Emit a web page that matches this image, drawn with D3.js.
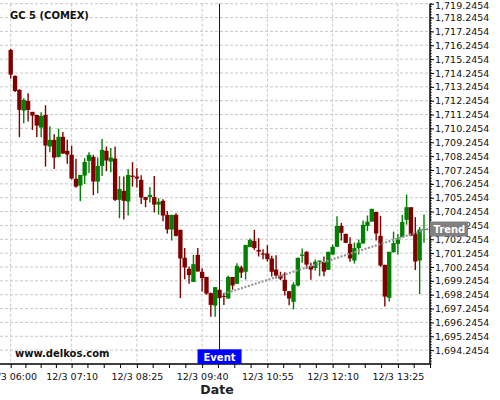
<!DOCTYPE html>
<html>
<head>
<meta charset="utf-8">
<script src="https://cdnjs.cloudflare.com/ajax/libs/d3/7.8.5/d3.min.js"></script>
<style>
  body { margin: 0; background: #fff; }
  text { font-family: "DejaVu Sans", sans-serif; }
</style>
</head>
<body>
<div id="chart"></div>
<script>
// chart data (5 minute candles, 12/3 06:00 onwards)
var openVals = [1715.91, 1714.04, 1713.03, 1711.53, 1712.23, 1711.44, 1711.22, 1710.31, 1711.22, 1708.94,
  1709.42, 1708.19, 1709.64, 1708.63, 1708.34, 1706.61, 1706.12, 1706.84, 1707.90, 1708.19,
  1706.41, 1707.54, 1708.63, 1707.85, 1708.07, 1705.09, 1705.74, 1704.97, 1706.84, 1706.77,
  1706.53, 1705.29, 1705.29, 1705.29, 1704.75, 1705.02, 1704.01, 1702.95, 1704.01, 1702.93,
  1700.91, 1700.11, 1699.17, 1701.12, 1699.90, 1699.53, 1698.36, 1697.46, 1698.60, 1698.16,
  1697.97, 1699.53, 1699.03, 1700.21, 1699.90, 1701.68, 1702.13, 1701.48, 1701.22, 1701.22,
  1700.86, 1700.06, 1699.63, 1699.32, 1698.50, 1697.73, 1698.91, 1701.05, 1701.34, 1700.33,
  1700.18, 1700.62, 1700.62, 1700.04, 1701.14, 1701.70, 1703.21, 1702.64, 1701.92, 1700.71,
  1701.61, 1701.94, 1703.21, 1703.52, 1704.22, 1702.49, 1700.40, 1698.02, 1701.32, 1701.92,
  1702.40, 1703.65, 1704.56, 1702.66, 1700.71, 1702.93];

var highVals = [1716.00, 1714.07, 1713.08, 1712.43, 1712.79, 1711.44, 1711.22, 1711.42, 1711.92, 1710.41,
  1709.83, 1710.23, 1709.98, 1709.42, 1708.99, 1708.05, 1706.89, 1708.10, 1708.53, 1708.34,
  1708.14, 1709.49, 1708.94, 1708.84, 1708.94, 1706.80, 1706.77, 1707.31, 1707.81, 1707.38,
  1706.87, 1705.31, 1706.01, 1706.82, 1705.21, 1705.14, 1704.28, 1704.01, 1704.13, 1702.93,
  1701.61, 1700.28, 1701.12, 1701.61, 1700.16, 1699.53, 1698.40, 1698.79, 1698.60, 1698.36,
  1699.61, 1699.53, 1700.52, 1700.33, 1701.84, 1702.30, 1702.93, 1702.33, 1701.53, 1701.82,
  1701.05, 1701.10, 1699.90, 1699.87, 1698.50, 1699.15, 1700.91, 1701.58, 1701.39, 1700.55,
  1700.78, 1700.71, 1701.00, 1701.34, 1701.86, 1703.91, 1703.43, 1702.64, 1702.40, 1702.01,
  1702.23, 1703.60, 1703.96, 1704.44, 1704.22, 1703.94, 1700.40, 1701.34, 1702.80, 1702.62,
  1704.01, 1705.47, 1704.56, 1703.84, 1703.12, 1704.03];

var lowVals = [1713.84, 1712.88, 1709.61, 1710.62, 1710.74, 1710.14, 1709.61, 1709.61, 1707.49, 1708.53,
  1707.31, 1708.14, 1708.41, 1707.69, 1706.56, 1705.96, 1705.00, 1706.24, 1707.02, 1705.43,
  1705.57, 1706.82, 1707.16, 1707.09, 1705.00, 1703.77, 1703.67, 1703.96, 1706.05, 1705.98,
  1704.80, 1704.56, 1704.90, 1704.17, 1704.03, 1703.55, 1702.66, 1702.15, 1702.44, 1698.00,
  1699.37, 1699.03, 1699.17, 1699.92, 1698.47, 1698.24, 1696.65, 1696.65, 1697.97, 1697.51,
  1697.97, 1698.60, 1699.03, 1699.46, 1699.34, 1701.68, 1701.48, 1701.00, 1700.81, 1700.64,
  1699.56, 1699.41, 1699.30, 1698.19, 1697.49, 1697.18, 1698.84, 1700.55, 1700.11, 1699.32,
  1699.99, 1699.58, 1699.58, 1700.04, 1701.14, 1701.70, 1702.15, 1701.97, 1700.62, 1700.49,
  1701.14, 1701.94, 1702.83, 1703.52, 1702.15, 1700.26, 1697.39, 1697.75, 1701.27, 1701.14,
  1702.40, 1703.31, 1702.47, 1700.02, 1698.29, 1701.99];

var closeVals = [1714.13, 1712.95, 1711.58, 1712.31, 1711.58, 1711.17, 1710.45, 1711.15, 1709.01, 1709.42,
  1708.14, 1709.64, 1708.43, 1708.36, 1706.63, 1706.05, 1706.89, 1707.83, 1708.34, 1706.41,
  1707.54, 1708.70, 1707.93, 1708.14, 1705.09, 1705.88, 1705.02, 1706.89, 1706.75, 1706.63,
  1705.26, 1705.09, 1705.45, 1704.75, 1704.95, 1703.96, 1702.95, 1704.01, 1702.49, 1700.86,
  1700.21, 1699.66, 1700.45, 1699.92, 1699.44, 1698.33, 1697.51, 1698.79, 1698.00, 1698.09,
  1699.53, 1698.91, 1700.33, 1699.84, 1701.84, 1702.20, 1701.61, 1701.36, 1701.14, 1700.81,
  1699.90, 1699.63, 1699.41, 1698.52, 1697.97, 1698.98, 1700.91, 1701.14, 1700.42, 1700.06,
  1700.62, 1700.71, 1699.92, 1701.34, 1701.70, 1703.21, 1702.71, 1701.99, 1700.86, 1701.61,
  1701.99, 1703.29, 1703.52, 1704.44, 1702.66, 1700.35, 1698.11, 1701.34, 1701.97, 1702.23,
  1703.50, 1704.56, 1702.51, 1700.64, 1702.95, 1702.98];

// x tick positions (candle index) and their labels
var tickIdx = [0, 14, 29, 44, 59, 74, 89];
var tickLabels = ["12/3 06:00", "12/3 07:10", "12/3 08:25", "12/3 09:40", "12/3 10:55", "12/3 12:10", "12/3 13:25"];

// y ticks
var yMin = 1693.2454;
var yMax = 1719.2454;
var yTicks = d3.range(1694.2454, 1719.3, 1);

// event + trend
var eventIdx = 48;
var trendIdx = [49, 96];
var trendVal = [1698.31, 1703.0];

var svgWidth = 500;
var svgHeight = 400;
var plotLeft = 0, plotRight = 430, plotTop = 3.7, plotBottom = 364;

var svg = d3.select("#chart")
  .append("svg")
  .attr("width", svgWidth)
  .attr("height", svgHeight);

var x = d3.scaleLinear()
  .domain([0, 89])
  .range([10.7, 397.9]);

var y = d3.scaleLinear()
  .domain([yMin, yMax])
  .range([plotBottom, plotTop]);

var step = x(1) - x(0);

// grid
var grid = svg.append("g").attr("class", "grid");
grid.selectAll(".hgrid")
  .data(yTicks)
  .enter()
  .append("line")
  .attr("x1", plotLeft)
  .attr("x2", plotRight)
  .attr("y1", d => y(d))
  .attr("y2", d => y(d))
  .attr("stroke", "#c8c8c8")
  .attr("stroke-dasharray", "3,2");

grid.selectAll(".vgrid")
  .data(tickIdx)
  .enter()
  .append("line")
  .attr("x1", d => x(d))
  .attr("x2", d => x(d))
  .attr("y1", plotTop)
  .attr("y2", plotBottom)
  .attr("stroke", "#c8c8c8")
  .attr("stroke-dasharray", "3,2");

// candles
var candles = d3.range(openVals.length).map(i => ({
  i: i, o: openVals[i], h: highVals[i], l: lowVals[i], c: closeVals[i]
}));

var cg = svg.append("g").selectAll("g")
  .data(candles)
  .enter()
  .append("g")
  .attr("fill", d => d.c >= d.o ? "#008000" : "#800000")
  .attr("stroke", d => d.c >= d.o ? "#008000" : "#800000");

cg.append("line")
  .attr("x1", d => x(d.i))
  .attr("x2", d => x(d.i))
  .attr("y1", d => y(d.h))
  .attr("y2", d => y(d.l))
  .attr("stroke-width", 1.4);

cg.append("rect")
  .attr("x", d => x(d.i) - step / 2)
  .attr("width", step)
  .attr("y", d => y(Math.max(d.o, d.c)))
  .attr("height", d => Math.max(1, Math.abs(y(d.o) - y(d.c))))
  .attr("stroke", "none");

// trend line (dotted)
svg.append("line")
  .attr("x1", x(trendIdx[0]))
  .attr("y1", y(trendVal[0]))
  .attr("x2", x(trendIdx[1]))
  .attr("y2", y(trendVal[1]))
  .attr("stroke", "#959595")
  .attr("stroke-width", 2.2)
  .attr("stroke-dasharray", "2,1.6");

// event line
svg.append("line")
  .attr("x1", x(eventIdx))
  .attr("x2", x(eventIdx))
  .attr("y1", plotTop)
  .attr("y2", plotBottom)
  .attr("stroke", "#0000b0")
  .attr("stroke-width", 1);

// bottom axis
var bottomAxis = d3.axisBottom(x)
  .tickValues(tickIdx)
  .tickFormat((d, k) => tickLabels[k])
  .tickSize(4)
  .tickSizeOuter(0);

var xAxis = svg.append("g")
  .attr("transform", `translate(0, ${plotBottom})`)
  .call(bottomAxis);

xAxis.select(".domain").remove();
xAxis.selectAll("text").attr("font-size", "9.5px").attr("fill", "#111").attr("dy", "0.9em");
xAxis.selectAll("line").attr("stroke", "#000");

// minor x ticks at quarters
var minorX = [];
for (var k = 0; k < tickIdx.length; k++) {
  var a = tickIdx[k];
  var b = k < tickIdx.length - 1 ? tickIdx[k + 1] : tickIdx[k] + 15;
  for (var q = 1; q < 4; q++) minorX.push(a + (b - a) * q / 4);
}
minorX.push(tickIdx[tickIdx.length - 1] + 15);
svg.append("g").selectAll("line")
  .data(minorX.filter(d => x(d) <= plotRight + 1))
  .enter()
  .append("line")
  .attr("x1", d => x(d))
  .attr("x2", d => x(d))
  .attr("y1", plotBottom)
  .attr("y2", plotBottom + 4)
  .attr("stroke", "#000");

svg.append("line")
  .attr("x1", plotLeft)
  .attr("x2", plotRight)
  .attr("y1", plotBottom)
  .attr("y2", plotBottom)
  .attr("stroke", "#000")
  .attr("stroke-width", 1.5);

// right axis
var rightAxis = d3.axisRight(y)
  .tickValues(yTicks)
  .tickFormat(d3.format(",.4f"))
  .tickSize(4)
  .tickSizeOuter(0);

var yAxis = svg.append("g")
  .attr("transform", `translate(${plotRight}, 0)`)
  .call(rightAxis);

yAxis.select(".domain").remove();
yAxis.selectAll("text").attr("font-size", "9.5px").attr("fill", "#111").attr("x", 5);
// keep the top label inside the picture
yAxis.selectAll("text").filter(d => d > 1719).attr("dy", "0.5em");
yAxis.selectAll("line").attr("stroke", "#000");

svg.append("g").selectAll("line")
  .data(d3.range(yMin, yMax + 0.01, 0.2))
  .enter()
  .append("line")
  .attr("x1", plotRight)
  .attr("x2", plotRight + 2)
  .attr("y1", d => y(d))
  .attr("y2", d => y(d))
  .attr("stroke", "#000")
  .attr("stroke-width", 0.7);

svg.append("line")
  .attr("x1", plotRight)
  .attr("x2", plotRight)
  .attr("y1", plotTop)
  .attr("y2", plotBottom)
  .attr("stroke", "#000")
  .attr("stroke-width", 1.5);

// event label
var ex = x(eventIdx);
svg.append("rect")
  .attr("x", ex - 22)
  .attr("y", plotBottom - 14.7)
  .attr("width", 44)
  .attr("height", 14.7)
  .attr("fill", "#0000ff");
svg.append("text")
  .attr("x", ex)
  .attr("y", plotBottom - 3.5)
  .attr("text-anchor", "middle")
  .attr("font-size", "10px")
  .attr("font-weight", "bold")
  .attr("fill", "#fff")
  .text("Event");

// trend label
var ty = y(trendVal[1]);
svg.append("rect")
  .attr("x", plotRight)
  .attr("y", ty - 7.3)
  .attr("width", 38)
  .attr("height", 15)
  .attr("fill", "#808080");
svg.append("text")
  .attr("x", plotRight + 3.5)
  .attr("y", ty + 3.8)
  .attr("font-size", "10px")
  .attr("font-weight", "bold")
  .attr("fill", "#fff")
  .text("Trend");

// titles
svg.append("text")
  .attr("x", 10)
  .attr("y", 18.5)
  .attr("font-size", "10px")
  .attr("font-weight", "bold")
  .attr("fill", "#111")
  .text("GC 5 (COMEX)");

svg.append("text")
  .attr("x", 15)
  .attr("y", 357)
  .attr("font-size", "10px")
  .attr("font-weight", "bold")
  .attr("fill", "#111")
  .text("www.delkos.com");

svg.append("text")
  .attr("x", 217)
  .attr("y", 394)
  .attr("text-anchor", "middle")
  .attr("font-size", "12.5px")
  .attr("font-weight", "bold")
  .attr("fill", "#222")
  .text("Date");
</script>
</body>
</html>
